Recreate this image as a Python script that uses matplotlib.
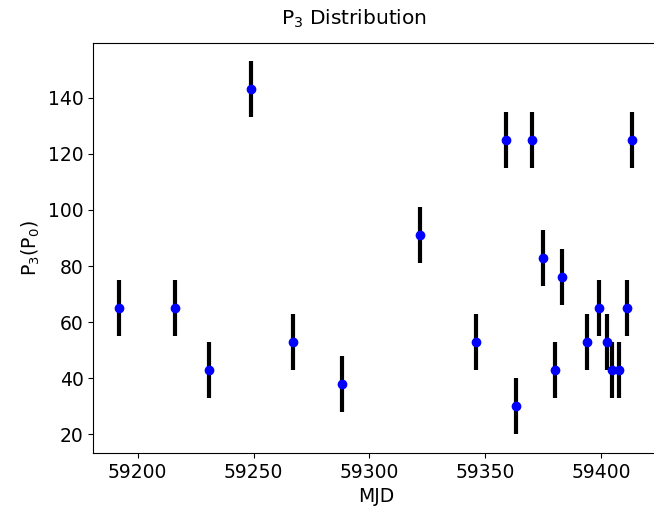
import matplotlib
matplotlib.use("Agg")
import matplotlib.pyplot as plt

# P3 measurements per epoch (MJD), all with +/-10 P0 error
mjd = [59192, 59216, 59231, 59249, 59267, 59288, 59322, 59346, 59359, 59363,
       59370, 59375, 59380, 59383, 59394, 59399, 59402.5, 59404.7, 59407.6,
       59411, 59413.3]
p3 = [65, 65, 43, 143, 53, 38, 91, 53, 125, 30,
      125, 83, 43, 76, 53, 65, 53, 43, 43,
      65, 125]
p3_err = [10] * len(p3)

fig = plt.figure(figsize=(6.54, 5.14), dpi=100)
# right edge of the axes sits just past the image border (cropped original)
ax = fig.add_axes([93.3 / 654, 61 / 514, 566 / 654, 410.3 / 514])

ax.errorbar(mjd, p3, yerr=p3_err, fmt='o', color='blue', ecolor='black',
            elinewidth=3, markersize=6, capsize=0)
ax.set_xlim(59180.9, 59425)

ax.set_xlabel("MJD", fontsize=13.5)
ax.set_ylabel(r"P$_3$(P$_0$)", fontsize=13.5)
ax.tick_params(labelsize=13.5)

fig.text(354 / 654, 1 - 19 / 514, r"P$_3$ Distribution", fontsize=14.5,
         ha='center', va='center')

fig.savefig("out.png", dpi=100)
